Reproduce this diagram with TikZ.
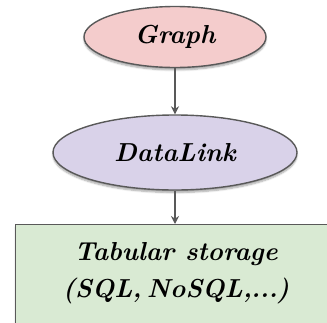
\documentclass[tikz,border=0pt]{standalone}
\usepackage{fontspec}
\setmainfont{Latin Modern Roman}
\usetikzlibrary{shapes.geometric,arrows.meta,shadows.blur}
\definecolor{pinkfill}{HTML}{F4CCCC}
\definecolor{lilacfill}{HTML}{D9D2E9}
\definecolor{greenfill}{HTML}{D9EAD3}
\definecolor{edgegrey}{HTML}{595959}
\newcommand{\tightdots}{.\kern-0.5pt.\kern-0.5pt.}
\tikzset{
  label font/.style={font=\fontsize{26}{37}\selectfont\bfseries\itshape},
  oval/.style={ellipse, draw=edgegrey, line width=1.4pt, inner sep=0pt,
    blur shadow={shadow xshift=0pt, shadow yshift=-2.5pt, shadow blur steps=6, shadow opacity=35},
    label font},
  storebox/.style={rectangle, draw=edgegrey, line width=1.4pt, label font,
    blur shadow={shadow xshift=0pt, shadow yshift=-2.5pt, shadow blur steps=6, shadow opacity=35}},
  link/.style={draw=edgegrey, line width=1.8pt, -{Stealth[length=8pt,width=8pt]}}
}
\begin{document}
\begin{tikzpicture}[x=1pt,y=-1pt]
  \useasboundingbox (0,0) rectangle (327,322);
  \clip (0,0) rectangle (327,322);
  \node[oval, fill=pinkfill, minimum width=182pt, minimum height=61pt] (graph) at (175,37) {Graph};
  \node[oval, fill=lilacfill, minimum width=244pt, minimum height=75pt] (datalink) at (175,152.5) {DataLink};
  \node[storebox, fill=greenfill, minimum width=335pt, minimum height=120pt, anchor=north west] (store) at (15,224) {};
  \node[label font, align=center] (storetext) at (176,273)
    {Tabular storage\\(SQL,\hspace{0.2em}NoSQL,\kern-1pt\tightdots\kern-1pt)};
  \draw[link] (graph) -- (datalink);
  \draw[link] (datalink) -- (datalink.south |- store.north);
\end{tikzpicture}
\end{document}
